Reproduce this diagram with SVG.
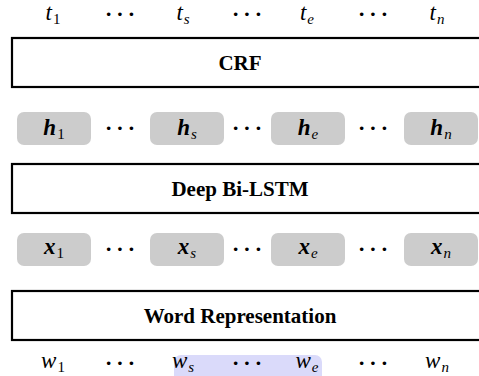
<svg xmlns="http://www.w3.org/2000/svg" width="479" height="376" viewBox="0 0 479 376">
<style>
.layer{fill:#ffffff;stroke:#000000;stroke-width:2.2}
.tok{fill:#cccccc}
.title{font-family:"Liberation Serif",serif;font-weight:bold;font-size:21px;text-anchor:middle;fill:#000}
.m{font-family:"Liberation Serif",serif;font-style:italic;font-size:23px;text-anchor:middle;fill:#000}
.mb{font-family:"Liberation Serif",serif;font-style:italic;font-weight:bold;font-size:23px;text-anchor:middle;fill:#000}
.sub{font-size:15px;font-weight:normal}
.num{font-style:normal}
.dots{font-family:"Liberation Serif",serif;font-weight:bold;font-size:22px;letter-spacing:4px;text-anchor:middle;fill:#000}
.hl{fill:#dadafa}
</style>
<rect width="479" height="376" fill="#ffffff"/>
<g id="tags">
<text class="m" x="53" y="20">t<tspan class="sub num" dx="1" dy="4">1</tspan></text>
<text class="dots" x="122" y="21">···</text>
<text class="m" x="183" y="20">t<tspan class="sub" dx="1" dy="4">s</tspan></text>
<text class="dots" x="249" y="21">···</text>
<text class="m" x="307" y="20">t<tspan class="sub" dx="1" dy="4">e</tspan></text>
<text class="dots" x="375" y="21">···</text>
<text class="m" x="437" y="20">t<tspan class="sub" dx="1" dy="4">n</tspan></text>
</g>
<g id="crf">
<rect class="layer" x="12" y="38" width="480" height="49"/>
<text class="title" x="240" y="70">CRF</text>
</g>
<g id="hidden">
<rect class="tok" x="17" y="112" width="74" height="33" rx="7"/>
<text class="mb" x="54" y="135">h<tspan class="sub num" dx="1" dy="4">1</tspan></text>
<text class="dots" x="122" y="135">···</text>
<rect class="tok" x="150" y="112" width="74" height="33" rx="7"/>
<text class="mb" x="187" y="135">h<tspan class="sub" dx="1" dy="4">s</tspan></text>
<text class="dots" x="249" y="135">···</text>
<rect class="tok" x="271" y="112" width="74" height="33" rx="7"/>
<text class="mb" x="308" y="135">h<tspan class="sub" dx="1" dy="4">e</tspan></text>
<text class="dots" x="375" y="135">···</text>
<rect class="tok" x="404" y="112" width="74" height="33" rx="7"/>
<text class="mb" x="441" y="135">h<tspan class="sub" dx="1" dy="4">n</tspan></text>
</g>
<g id="bilstm">
<rect class="layer" x="12" y="164" width="480" height="49"/>
<text class="title" x="240" y="196">Deep Bi-LSTM</text>
</g>
<g id="inputs">
<rect class="tok" x="17" y="233" width="74" height="33" rx="7"/>
<text class="mb" x="54" y="254">x<tspan class="sub num" dx="1" dy="4">1</tspan></text>
<text class="dots" x="122" y="256">···</text>
<rect class="tok" x="150" y="233" width="74" height="33" rx="7"/>
<text class="mb" x="187" y="254">x<tspan class="sub" dx="1" dy="4">s</tspan></text>
<text class="dots" x="249" y="256">···</text>
<rect class="tok" x="271" y="233" width="74" height="33" rx="7"/>
<text class="mb" x="308" y="254">x<tspan class="sub" dx="1" dy="4">e</tspan></text>
<text class="dots" x="375" y="256">···</text>
<rect class="tok" x="404" y="233" width="74" height="33" rx="7"/>
<text class="mb" x="441" y="254">x<tspan class="sub" dx="1" dy="4">n</tspan></text>
</g>
<g id="wordrep">
<rect class="layer" x="12" y="291" width="480" height="49"/>
<text class="title" x="240" y="323">Word Representation</text>
</g>
<g id="words">
<rect class="hl" x="174" y="355" width="148" height="30" rx="7"/>
<text class="m" x="53" y="368">w<tspan class="sub num" dx="1" dy="4">1</tspan></text>
<text class="dots" x="122" y="370">···</text>
<text class="m" x="183" y="368">w<tspan class="sub" dx="1" dy="4">s</tspan></text>
<text class="dots" x="249" y="370">···</text>
<text class="m" x="307" y="368">w<tspan class="sub" dx="1" dy="4">e</tspan></text>
<text class="dots" x="375" y="370">···</text>
<text class="m" x="437" y="368">w<tspan class="sub" dx="1" dy="4">n</tspan></text>
</g>
<g id="connectors"></g>
</svg>
